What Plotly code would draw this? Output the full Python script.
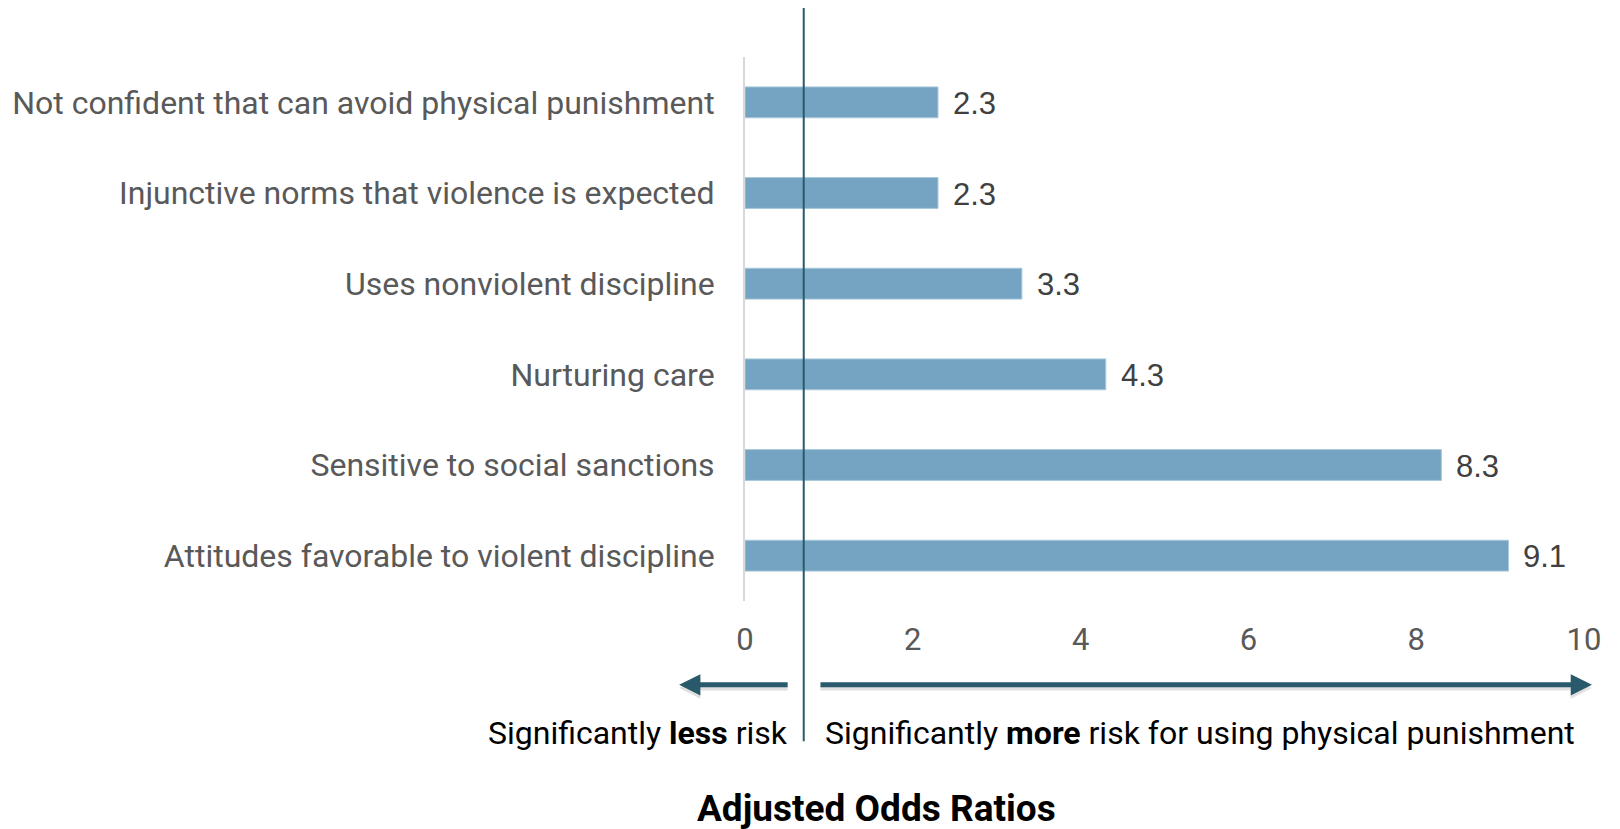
import plotly.graph_objects as go

categories = [
    "Not confident that can avoid physical punishment",
    "Injunctive norms that violence is expected",
    "Uses nonviolent discipline",
    "Nurturing care",
    "Sensitive to social sanctions",
    "Attitudes favorable to violent discipline",
]
values = [2.3, 2.3, 3.3, 4.3, 8.3, 9.1]
value_labels = ["2.3", "2.3", "3.3", "4.3", "8.3", "9.1"]
x_ticks = [0, 2, 4, 6, 8, 10]
ref_line_x = 0.7

FONT = "Roboto"
BAR = "#74a4c2"
DARK = "#285a6b"

fig = go.Figure()
fig.add_trace(go.Bar(
    y=categories, x=values, orientation="h",
    marker=dict(color=BAR, line=dict(color="#a7c7db", width=1)),
    width=0.34, hoverinfo="skip",
))

for c, v, t in zip(categories, values, value_labels):
    fig.add_annotation(x=v, y=c, xref="x", yref="y", text=t, showarrow=False,
                       xanchor="left", yanchor="middle", xshift=13, yshift=-1,
                       font=dict(family="Liberation Sans, Arial", size=31, color="#404040"))

# vertical reference line
fig.add_shape(type="line", xref="x", yref="paper", x0=ref_line_x, x1=ref_line_x,
              y0=-0.258, y1=1.09, line=dict(color=DARK, width=2))

# arrows (with faint shadows)
for dy, col in [(-0.006, "rgba(0,0,0,0.12)"), (0, DARK)]:
    fig.add_annotation(xref="paper", yref="paper", x=-0.0785, y=-0.154 + dy,
                       ax=110, ay=0, axref="pixel", ayref="pixel", text="",
                       showarrow=True, arrowhead=2, arrowsize=0.85, arrowwidth=5,
                       arrowcolor=col)
    fig.add_annotation(xref="paper", yref="paper", x=1.0095, y=-0.154 + dy,
                       ax=-773, ay=0, text="",
                       showarrow=True, arrowhead=2, arrowsize=0.85, arrowwidth=5,
                       arrowcolor=col)

fig.add_annotation(xref="paper", yref="paper", x=0.0535, y=-0.243,
                   text="Significantly <b>less</b> risk", showarrow=False,
                   xanchor="right", yanchor="middle",
                   font=dict(family=FONT, size=32, color="#000000"))
fig.add_annotation(xref="paper", yref="paper", x=0.093, y=-0.243,
                   text="Significantly <b>more</b> risk for using physical punishment",
                   showarrow=False, xanchor="left", yanchor="middle",
                   font=dict(family=FONT, size=32, color="#000000"))
fig.add_annotation(xref="paper", yref="paper", x=0.157, y=-0.381,
                   text="<b>Adjusted Odds Ratios</b>", showarrow=False,
                   xanchor="center", yanchor="middle",
                   font=dict(family=FONT, size=37, color="#000000"))

fig.update_layout(
    width=1620, height=829,
    margin=dict(l=743, r=36, t=57, b=228),
    paper_bgcolor="white", plot_bgcolor="white",
    showlegend=False,
    font=dict(family=FONT),
    xaxis=dict(range=[0, 10], tickvals=x_ticks, showgrid=False, zeroline=False,
               showline=False, ticks="", ticklabelstandoff=17,
               tickfont=dict(family=FONT, size=31, color="#595959")),
    yaxis=dict(autorange="reversed", showgrid=False, zeroline=False,
               showline=True, linecolor="#d9d9d9", linewidth=2, ticks="",
               ticklabelstandoff=22,
               tickfont=dict(family=FONT, size=32, color="#595959")),
)

fig.write_html("out.html")
